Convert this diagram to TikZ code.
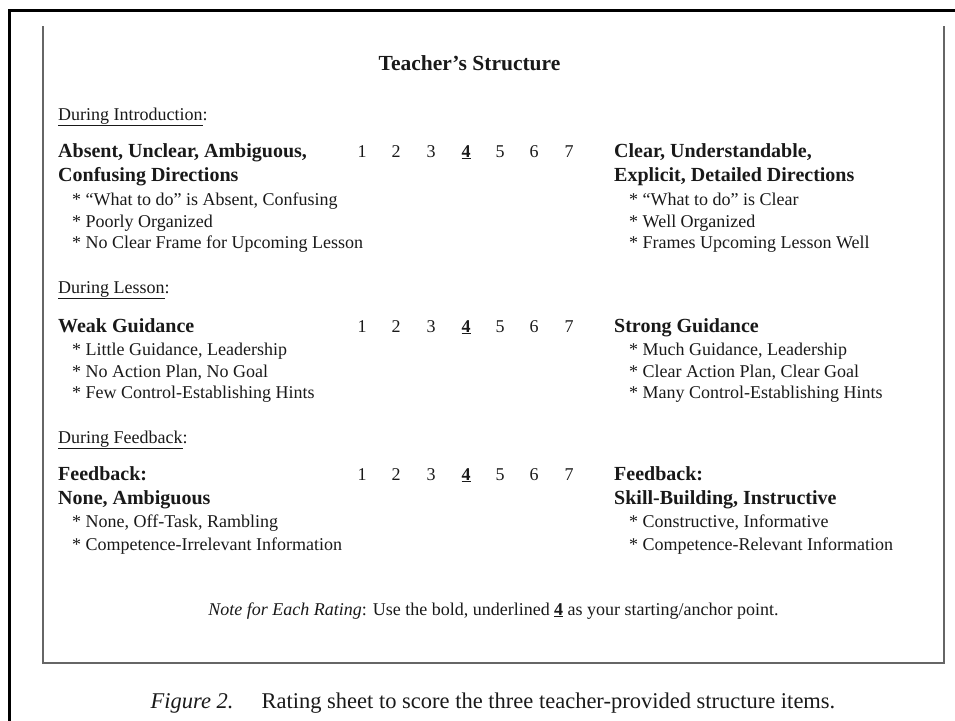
\documentclass[tikz,border=0pt]{standalone}
\usepackage{fontspec}
\setmainfont{Liberation Serif}
\begin{document}
\begin{tikzpicture}[x=1pt,y=-1pt,
  txt/.style={inner sep=0pt, anchor=base west, text=black!90, font=\fontsize{18}{21}\selectfont},
  hd/.style={inner sep=0pt, anchor=base west, text=black!90, font=\fontsize{20}{24}\selectfont\bfseries},
  num/.style={inner sep=0pt, anchor=base, text=black!90, font=\fontsize{18}{21}\selectfont},
  outerframe/.style={line width=3pt, black},
  innerbox/.style={line width=2pt, draw=black!60}]
\useasboundingbox (0,0) rectangle (955,720);
% frames
\draw[outerframe] (9,740) -- (9,10) -- (970,10);
\draw[innerbox] (43,26) -- (43,663) -- (944,663) -- (944,26);
% title
\node[inner sep=0pt, anchor=base, text=black!90, font=\fontsize{21.5}{24}\selectfont\bfseries] (title) at (469.5,70) {Teacher’s Structure};
% section labels
\node[txt] (s1) at (58,120) {\underline{During Introduction}:};
\node[txt] (s2) at (58,293) {\underline{During Lesson}:};
\node[txt] (s3) at (58,443) {\underline{During Feedback}:};
% row 1
\node[hd] (l1a) at (58,157) {Absent, Unclear, Ambiguous,};
\node[hd] (l1b) at (58,181) {Confusing Directions};
\node[txt] (l1c) at (72,205) {* “What to do” is Absent, Confusing};
\node[txt] (l1d) at (72,227) {* Poorly Organized};
\node[txt] (l1e) at (72,248) {* No Clear Frame for Upcoming Lesson};
\node[hd] (r1a) at (614,157) {Clear, Understandable,};
\node[hd] (r1b) at (614,181) {Explicit, Detailed Directions};
\node[txt] (r1c) at (629,205) {* “What to do” is Clear};
\node[txt] (r1d) at (629,227) {* Well Organized};
\node[txt] (r1e) at (629,248) {* Frames Upcoming Lesson Well};
% row 2
\node[hd] (l2a) at (58,332) {Weak Guidance};
\node[txt] (l2b) at (72,355) {* Little Guidance, Leadership};
\node[txt] (l2c) at (72,377) {* No Action Plan, No Goal};
\node[txt] (l2d) at (72,398) {* Few Control-Establishing Hints};
\node[hd] (r2a) at (614,332) {Strong Guidance};
\node[txt] (r2b) at (629,355) {* Much Guidance, Leadership};
\node[txt] (r2c) at (629,377) {* Clear Action Plan, Clear Goal};
\node[txt] (r2d) at (629,398) {* Many Control-Establishing Hints};
% row 3
\node[hd] (l3a) at (58,480) {Feedback:};
\node[hd] (l3b) at (58,504) {None, Ambiguous};
\node[txt] (l3c) at (72,527) {* None, Off-Task, Rambling};
\node[txt] (l3d) at (72,550) {* Competence-Irrelevant Information};
\node[hd] (r3a) at (614,480) {Feedback:};
\node[hd] (r3b) at (614,504) {Skill-Building, Instructive};
\node[txt] (r3c) at (629,527) {* Constructive, Informative};
\node[txt] (r3d) at (629,550) {* Competence-Relevant Information};
% scales
\foreach \r/\yy in {1/157,2/332,3/480}{
  \node[num] (n\r-1) at (362,\yy) {1};
  \node[num] (n\r-2) at (396,\yy) {2};
  \node[num] (n\r-3) at (431,\yy) {3};
  \node[num] (n\r-4) at (466,\yy) {\underline{\textbf{4}}};
  \node[num] (n\r-5) at (500,\yy) {5};
  \node[num] (n\r-6) at (534,\yy) {6};
  \node[num] (n\r-7) at (569,\yy) {7};
}
% note
\node[inner sep=0pt, anchor=base, text=black!90, font=\fontsize{18}{21}\selectfont] (note) at (493.5,615)
  {\textit{Note for Each Rating}: Use the bold, underlined \underline{\textbf{4}} as your starting/anchor point.};
% caption
\node[inner sep=0pt, anchor=base, text=black!90, font=\fontsize{22.5}{26}\selectfont] (cap) at (493,708)
  {\textit{Figure 2.}\hspace{28pt}Rating sheet to score the three teacher-provided structure items.};
\end{tikzpicture}
\end{document}
